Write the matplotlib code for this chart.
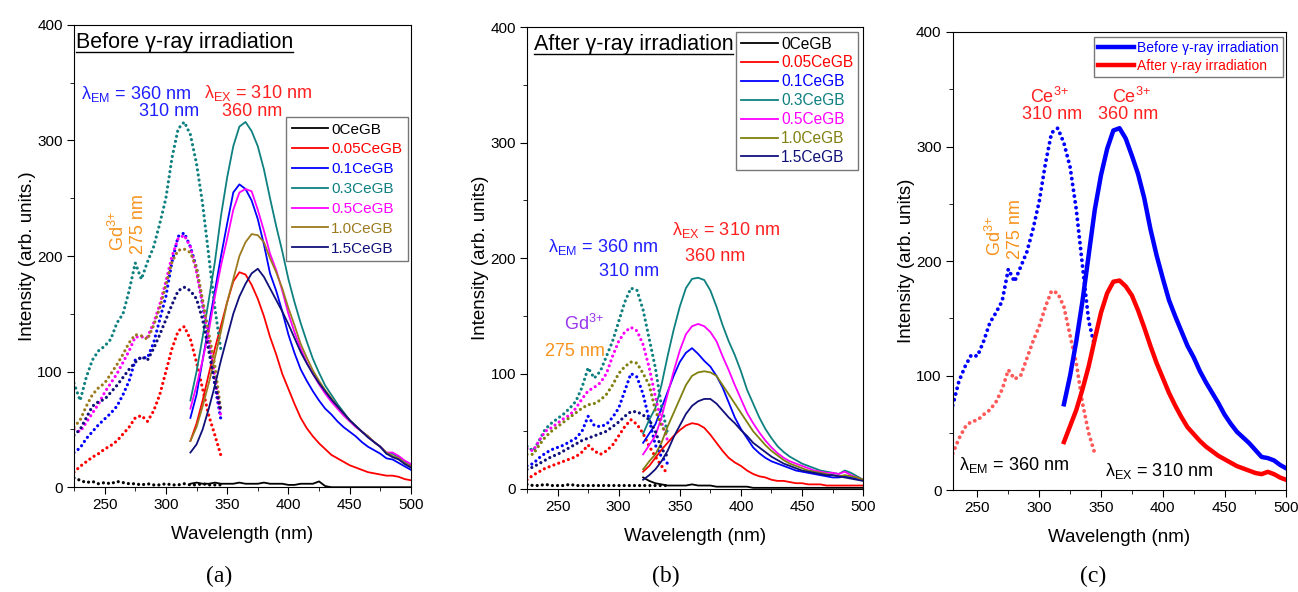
import numpy as np
import matplotlib
matplotlib.use('Agg')
import matplotlib.pyplot as plt
from matplotlib.lines import Line2D
from matplotlib.ticker import MultipleLocator

plt.rcParams['font.family'] = ['Liberation Sans', 'DejaVu Sans']
plt.rcParams['mathtext.fontset'] = 'custom'
plt.rcParams['mathtext.rm'] = 'Liberation Sans'
plt.rcParams['mathtext.it'] = 'Liberation Sans:italic'

# длины волн (нм)
wl_ex_a = np.arange(225, 350, 5)
wl_ex_b = np.arange(225, 345, 5)
wl_ex_c = np.arange(230, 350, 5)
wl_em = np.arange(320, 505, 5)

samples = ['0CeGB', '0.05CeGB', '0.1CeGB', '0.3CeGB', '0.5CeGB', '1.0CeGB', '1.5CeGB']
colors_a = ['black', '#ff0000', '#0000ff', '#0f8080', '#ff00ff', '#9c7b1e', '#10107a']
colors_b = ['black', '#ff0000', '#0000ff', '#0f8080', '#ff00ff', '#808010', '#10107a']

# (a) до облучения: возбуждение
ex_a_0 = [8, 6, 4, 5, 3, 4, 3, 5, 4, 3, 3, 2, 3, 2, 2, 3, 2, 2, 3, 2, 2, 3, 2, 2, 2]
ex_a_005 = [13, 18, 22, 26, 29, 33, 36, 40, 46, 52, 60, 62, 57, 66, 80, 100, 120, 135, 139, 128, 108, 85, 62, 45, 27]
ex_a_01 = [30, 34, 42, 48, 54, 59, 64, 70, 80, 92, 110, 112, 112, 125, 145, 165, 195, 217, 220, 208, 190, 158, 125, 88, 58]
ex_a_03 = [90, 75, 95, 110, 118, 122, 128, 142, 150, 170, 194, 180, 195, 208, 228, 250, 285, 310, 316, 305, 280, 245, 200, 155, 118]
ex_a_05 = [50, 48, 56, 64, 72, 82, 90, 98, 108, 118, 130, 130, 130, 142, 158, 178, 200, 215, 218, 208, 186, 158, 128, 95, 60]
ex_a_10 = [52, 58, 70, 80, 86, 90, 98, 106, 115, 125, 132, 131, 128, 140, 155, 175, 195, 205, 206, 203, 190, 162, 133, 105, 65]
ex_a_15 = [45, 50, 60, 70, 74, 76, 82, 88, 95, 102, 108, 113, 110, 120, 132, 145, 158, 170, 173, 170, 163, 145, 118, 90, 65]

# (a) до облучения: эмиссия
em_a_0 = [3, 4, 3, 3, 4, 3, 3, 3, 4, 3, 3, 3, 4, 3, 3, 3, 2, 2, 3, 3, 3, 5, 1,
          0, 0, 0, 0, 0, 0, 0, 0, 0, 0, 0, 0, 0, 0]
em_a_005 = [40, 55, 75, 98, 120, 140, 160, 178, 186, 184, 175, 163, 148, 130, 115, 98, 85, 72, 60, 51,
            44, 38, 33, 28, 25, 22, 19, 17, 15, 13, 12, 11, 10, 10, 9, 7, 6]
em_a_01 = [60, 80, 110, 140, 170, 200, 228, 255, 262, 258, 248, 232, 210, 185, 170, 152, 132, 116, 102, 92,
           83, 75, 68, 63, 57, 52, 48, 44, 39, 35, 32, 29, 25, 24, 21, 18, 15]
em_a_03 = [75, 100, 130, 162, 195, 235, 268, 295, 312, 316, 308, 295, 275, 250, 226, 204, 180, 160, 142, 126,
           111, 99, 88, 80, 72, 65, 58, 53, 48, 44, 39, 35, 29, 29, 26, 22, 19]
em_a_05 = [68, 88, 110, 135, 165, 192, 215, 240, 255, 258, 256, 240, 222, 202, 188, 170, 150, 134, 120, 108,
           98, 89, 81, 74, 68, 62, 57, 52, 48, 44, 39, 35, 30, 30, 27, 23, 20]
em_a_10 = [40, 52, 70, 90, 112, 135, 160, 180, 200, 212, 219, 218, 212, 198, 186, 172, 155, 140, 124, 112,
           101, 92, 84, 77, 70, 64, 58, 53, 48, 44, 39, 35, 30, 27, 25, 21, 18]
em_a_15 = [30, 37, 50, 68, 88, 110, 130, 150, 165, 176, 185, 189, 182, 172, 162, 152, 141, 129, 117, 107,
           98, 90, 83, 76, 70, 64, 58, 53, 48, 43, 39, 35, 29, 26, 24, 20, 17]

# (b) после облучения: возбуждение
ex_b_0 = [4, 3, 3, 4, 3, 3, 3, 4, 3, 3, 3, 3, 3, 3, 3, 3, 3, 3, 3, 3, 3, 3, 3, 3]
ex_b_005 = [8, 12, 15, 18, 20, 22, 24, 26, 28, 32, 38, 33, 30, 33, 38, 46, 54, 60, 56, 48, 37, 28, 20, 13]
ex_b_01 = [20, 22, 27, 31, 34, 36, 38, 41, 44, 50, 63, 55, 54, 56, 62, 70, 85, 100, 97, 82, 60, 38, 28, 22]
ex_b_03 = [37, 33, 42, 52, 57, 61, 65, 70, 76, 88, 105, 96, 102, 115, 128, 145, 162, 174, 172, 155, 130, 105, 72, 48]
ex_b_05 = [35, 33, 42, 50, 53, 57, 61, 64, 70, 78, 85, 88, 92, 100, 115, 128, 136, 140, 137, 125, 105, 80, 58, 42]
ex_b_10 = [30, 30, 38, 45, 50, 54, 58, 62, 66, 70, 73, 74, 77, 82, 90, 100, 106, 110, 109, 100, 90, 68, 55, 46]
ex_b_15 = [17, 19, 22, 25, 28, 30, 33, 36, 39, 42, 44, 46, 48, 50, 54, 58, 63, 67, 67, 64, 60, 50, 35, 28]

# (b) после облучения: эмиссия
em_b_0 = [10, 7, 5, 4, 3, 3, 3, 3, 4, 3, 3, 3, 2, 2, 2, 2, 2, 2, 1, 1,
          1, 1, 1, 1, 1, 1, 1, 1, 1, 1, 1, 1, 1, 1, 1, 1, 1]
em_b_005 = [15, 20, 27, 34, 40, 46, 51, 55, 57, 56, 53, 47, 40, 33, 27, 23, 20, 16, 13, 11,
            10, 8, 7, 7, 6, 5, 5, 4, 4, 4, 3, 3, 3, 3, 3, 3, 3]
em_b_01 = [40, 48, 56, 70, 84, 98, 110, 118, 122, 117, 111, 106, 98, 88, 75, 62, 52, 44, 36, 31,
           27, 24, 22, 20, 18, 16, 15, 14, 13, 12, 11, 10, 10, 11, 10, 9, 8]
em_b_03 = [48, 60, 70, 90, 115, 138, 158, 174, 182, 183, 181, 172, 158, 142, 128, 116, 102, 86, 74, 62,
           52, 44, 37, 32, 28, 25, 22, 20, 18, 16, 15, 14, 13, 16, 14, 11, 8]
em_b_05 = [30, 38, 46, 62, 82, 102, 120, 134, 141, 143, 141, 136, 128, 115, 103, 90, 78, 66, 57, 49,
           42, 36, 31, 27, 24, 22, 20, 18, 16, 15, 14, 14, 13, 15, 12, 10, 8]
em_b_10 = [17, 24, 30, 40, 54, 66, 78, 90, 98, 101, 102, 101, 98, 90, 82, 74, 66, 58, 50, 44,
           38, 33, 29, 25, 22, 20, 18, 16, 15, 14, 13, 12, 11, 12, 11, 10, 8]
em_b_15 = [8, 12, 17, 24, 33, 45, 55, 65, 72, 76, 78, 78, 74, 68, 62, 57, 51, 46, 40, 36,
           32, 28, 25, 22, 20, 18, 16, 15, 14, 13, 12, 12, 11, 10, 9, 8, 7]

# (c) 0.3CeGB до и после
ex_c_before = [74, 95, 108, 118, 117, 130, 146, 155, 165, 193, 182, 195, 208, 228, 252, 285, 312, 316, 303, 282, 245, 196, 148, 125]
ex_c_after = [32, 45, 55, 60, 61, 66, 70, 77, 88, 105, 97, 100, 115, 130, 143, 160, 174, 172, 160, 135, 111, 76, 50, 32]
em_c_before = [75, 100, 130, 165, 205, 245, 275, 298, 314, 316, 307, 292, 276, 255, 228, 205, 185, 166, 152, 139,
               126, 116, 104, 94, 85, 76, 66, 58, 51, 46, 41, 35, 29, 28, 26, 22, 19]
em_c_after = [42, 56, 70, 88, 108, 132, 155, 172, 182, 183, 178, 170, 157, 142, 126, 111, 98, 85, 74, 64,
              55, 49, 43, 38, 34, 30, 27, 24, 21, 19, 17, 15, 14, 16, 14, 11, 9]

ex_a = [ex_a_0, ex_a_005, ex_a_01, ex_a_03, ex_a_05, ex_a_10, ex_a_15]
em_a = [em_a_0, em_a_005, em_a_01, em_a_03, em_a_05, em_a_10, em_a_15]
ex_b = [ex_b_0, ex_b_005, ex_b_01, ex_b_03, ex_b_05, ex_b_10, ex_b_15]
em_b = [em_b_0, em_b_005, em_b_01, em_b_03, em_b_05, em_b_10, em_b_15]

dots = (0, (0.01, 1.6))
orange = '#f7931e'
fs_note = 13

fig = plt.figure(figsize=(12.98, 5.92), dpi=100)
ax1 = fig.add_axes([0.057, 0.177, 0.2596, 0.781])
ax2 = fig.add_axes([0.406, 0.174, 0.259, 0.780])
ax3 = fig.add_axes([0.734, 0.172, 0.257, 0.774])


def style(ax, x0, ylab):
    ax.set_xlim(x0, 500)
    ax.set_ylim(0, 400)
    ax.xaxis.set_major_locator(MultipleLocator(50))
    ax.xaxis.set_minor_locator(MultipleLocator(25))
    ax.yaxis.set_major_locator(MultipleLocator(100))
    ax.yaxis.set_minor_locator(MultipleLocator(50))
    ax.tick_params(which='both', direction='out', labelsize=11, top=False, right=False)
    ax.tick_params(which='major', length=5, pad=3)
    ax.tick_params(which='minor', length=3)
    ax.set_xlabel('Wavelength (nm)', fontsize=13.5, labelpad=10)
    ax.set_ylabel(ylab, fontsize=13.5, labelpad=1)


def note(ax, x, y, s, c, **kw):
    ax.text(x, y, s, color=c, fontsize=fs_note, va='center', **kw)


# (a)
for i in range(7):
    ax1.plot(wl_ex_a, ex_a[i], color=colors_a[i], lw=2.3, ls=dots, dash_capstyle='round')
    ax1.plot(wl_em, em_a[i], color=colors_a[i], lw=1.3, label=samples[i])
style(ax1, 225, 'Intensity (arb. units.)')
leg = ax1.legend(loc='upper right', bbox_to_anchor=(0.99, 0.80), fontsize=11, handlelength=2.4,
                 handletextpad=0.2, borderaxespad=0, fancybox=False, edgecolor='#555555',
                 labelspacing=0.38, borderpad=0.35)
for t, c in zip(leg.get_texts(), colors_a):
    t.set_color(c)
t1 = ax1.text(0.005, 0.985, 'Before γ-ray irradiation', transform=ax1.transAxes, fontsize=15.5, va='top')
note(ax1, 231, 340, 'λ$_{\\mathrm{EM}}$ = 360 nm', '#2020ff')
note(ax1, 327, 325, '310 nm', '#2020ff', ha='right')
note(ax1, 331, 341, 'λ$_{\\mathrm{EX}}$ = 310 nm', '#ff2020')
note(ax1, 370, 325, '360 nm', '#ff2020', ha='center')
ax1.text(261, 204, r'Gd$^{3{+}}$', color=orange, fontsize=fs_note, rotation=90, ha='center', va='bottom')
ax1.text(278, 202, '275 nm', color=orange, fontsize=fs_note, rotation=90, ha='center', va='bottom')

# (b)
for i in range(7):
    ax2.plot(wl_ex_b, ex_b[i], color=colors_b[i], lw=2.3, ls=dots, dash_capstyle='round')
    ax2.plot(wl_em, em_b[i], color=colors_b[i], lw=1.3, label=samples[i])
style(ax2, 225, 'Intensity (arb. units)')
leg = ax2.legend(loc='upper right', bbox_to_anchor=(0.985, 0.99), fontsize=11.2, handlelength=2.4,
                 handletextpad=0.2, borderaxespad=0, fancybox=False, edgecolor='#555555',
                 labelspacing=0.25, borderpad=0.3)
for t, c in zip(leg.get_texts(), colors_b):
    t.set_color(c)
t2 = ax2.text(0.02, 0.985, 'After γ-ray irradiation', transform=ax2.transAxes, fontsize=15.5, va='top')
note(ax2, 242, 210, 'λ$_{\\mathrm{EM}}$ = 360 nm', '#2020ff')
note(ax2, 333, 188, '310 nm', '#2020ff', ha='right')
note(ax2, 344, 224, 'λ$_{\\mathrm{EX}}$ = 310 nm', '#ff2020')
note(ax2, 379, 201, '360 nm', '#ff2020', ha='center')
note(ax2, 272, 143, r'Gd$^{3{+}}$', '#9933ee', ha='center')
note(ax2, 264, 119, '275 nm', orange, ha='center')

# (c)
ax3.plot(wl_ex_c, ex_c_before, color='#0000ff', lw=2.8, ls=(0, (0.01, 1.5)), dash_capstyle='round')
ax3.plot(wl_ex_c, ex_c_after, color='#ff0000', lw=2.8, ls=(0, (0.01, 1.5)), dash_capstyle='round', alpha=0.65)
ax3.plot(wl_em, em_c_before, color='#0000ff', lw=3.2, label='Before γ-ray irradiation')
ax3.plot(wl_em, em_c_after, color='#ff0000', lw=3.2, label='After γ-ray irradiation')
style(ax3, 230, 'Intensity (arb. units)')
leg = ax3.legend(loc='upper right', bbox_to_anchor=(0.99, 0.99), fontsize=10, handlelength=2.6,
                 handletextpad=0.2, borderaxespad=0, fancybox=False, edgecolor='#555555',
                 labelspacing=0.3, borderpad=0.3)
for t, c in zip(leg.get_texts(), ['#0000ff', '#ff0000']):
    t.set_color(c)
note(ax3, 308, 343, r'Ce$^{3{+}}$', '#ff2020', ha='center')
note(ax3, 310, 328, '310 nm', '#ff2020', ha='center')
note(ax3, 375, 343, r'Ce$^{3{+}}$', '#ff2020', ha='center')
note(ax3, 372, 328, '360 nm', '#ff2020', ha='center')
ax3.text(264, 204, r'Gd$^{3{+}}$', color=orange, fontsize=fs_note, rotation=90, ha='center', va='bottom')
ax3.text(281, 202, '275 nm', color=orange, fontsize=fs_note, rotation=90, ha='center', va='bottom')
note(ax3, 235, 22, 'λ$_{\\mathrm{EM}}$ = 360 nm', 'black')
note(ax3, 353, 17, 'λ$_{\\mathrm{EX}}$ = 310 nm', 'black')

# подписи панелей
for x, s in [(0.1687, '(a)'), (0.513, '(b)'), (0.842, '(c)')]:
    fig.text(x, 0.027, s, fontsize=17, family='Liberation Serif', ha='center', va='center')

# подчёркивание заголовков
fig.canvas.draw()
r = fig.canvas.get_renderer()
for t in (t1, t2):
    bb = t.get_window_extent(r).transformed(fig.transFigure.inverted())
    fig.add_artist(Line2D([bb.x0, bb.x1], [bb.y0 + 0.002, bb.y0 + 0.002], color='black', lw=1,
                          transform=fig.transFigure))

plt.savefig('out.png', dpi=100)
